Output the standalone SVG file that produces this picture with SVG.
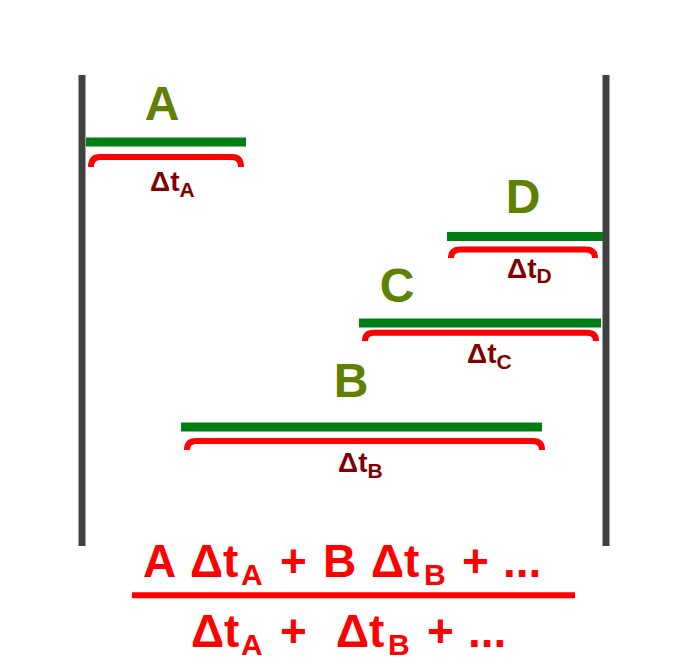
<svg xmlns="http://www.w3.org/2000/svg" width="692" height="669" viewBox="0 0 692 669">
<style>
.wall{stroke:#404040;stroke-width:7;fill:none}
.bar{stroke:#007D14;stroke-width:9;fill:none}
.brk{stroke:#FF0000;stroke-width:6;fill:none}
.lbl{font-family:"Liberation Sans",Arial,sans-serif;font-weight:bold;font-size:48px;fill:#5F8000;text-anchor:middle}
.dt{font-family:"Liberation Sans",Arial,sans-serif;font-weight:bold;font-size:28px;fill:#800000}
.dt .s{font-size:21px}
.f{font-family:"Liberation Sans",Arial,sans-serif;font-weight:bold;font-size:46px;fill:#FF0000}
.f .s{font-size:30px}
</style>
<rect width="692" height="669" fill="#FFFFFF"/>
<g id="walls">
<line class="wall" x1="82" y1="75" x2="82" y2="546"/>
<line class="wall" x1="606" y1="75" x2="606" y2="546"/>
</g>
<g id="node-A">
<text class="lbl" x="162" y="120">A</text>
<line class="bar" x1="86" y1="142" x2="246" y2="142"/>
<path class="brk" d="M91 167 Q91 157 100 157 H232 Q241 157 241 167"/>
<text class="dt" x="150" y="191">Δt<tspan class="s" dy="6">A</tspan></text>
</g>
<g id="node-D">
<text class="lbl" x="523" y="213">D</text>
<line class="bar" x1="447" y1="236.5" x2="603" y2="236.5"/>
<path class="brk" d="M451 258 Q451 249.5 460 249.5 H586 Q595 249.5 595 258"/>
<text class="dt" x="507" y="278">Δt<tspan class="s" dy="5">D</tspan></text>
</g>
<g id="node-C">
<text class="lbl" x="397" y="302">C</text>
<line class="bar" x1="359" y1="323" x2="601" y2="323"/>
<path class="brk" d="M365 341 Q365 332.7 374 332.7 H587 Q596 332.7 596 341"/>
<text class="dt" x="467" y="363">Δt<tspan class="s" dy="6">C</tspan></text>
</g>
<g id="node-B">
<text class="lbl" x="351" y="397">B</text>
<line class="bar" x1="181" y1="427" x2="542" y2="427"/>
<path class="brk" d="M187 450 Q187 441 196 441 H533 Q542 441 542 450"/>
<text class="dt" x="338" y="472">Δt<tspan class="s" dy="6">B</tspan></text>
</g>
<g id="formula">
<text class="f" y="577"><tspan x="143">A</tspan><tspan x="190">Δt</tspan><tspan class="s" x="241" dy="8">A</tspan><tspan x="280" dy="-8">+</tspan><tspan x="323">B</tspan><tspan x="371">Δt</tspan><tspan class="s" x="424" dy="8">B</tspan><tspan x="462" dy="-8">+</tspan><tspan x="503">...</tspan></text>
<line x1="132" y1="595.3" x2="575" y2="595.3" stroke="#FF0000" stroke-width="6"/>
<text class="f" y="647"><tspan x="191">Δt</tspan><tspan class="s" x="241" dy="8">A</tspan><tspan x="280" dy="-8">+</tspan><tspan x="336">Δt</tspan><tspan class="s" x="388" dy="8">B</tspan><tspan x="427" dy="-8">+</tspan><tspan x="468">...</tspan></text>
</g>
</svg>
